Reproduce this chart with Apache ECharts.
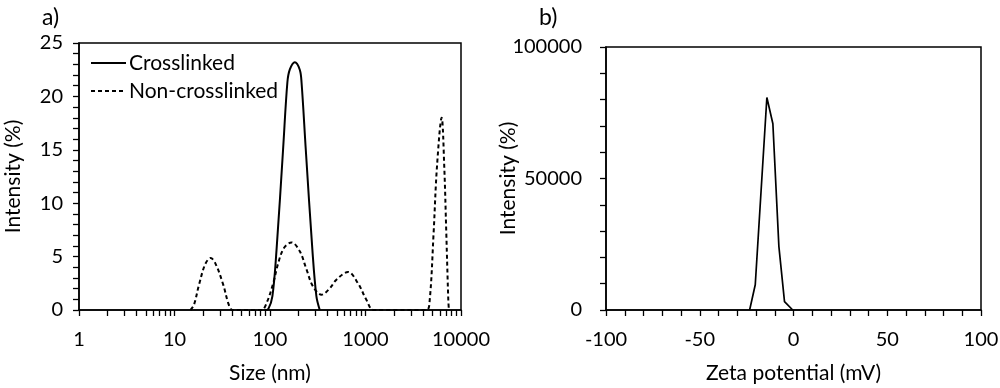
<!DOCTYPE html>
<html>
<head>
<meta charset="utf-8">
<script src="https://cdn.jsdelivr.net/npm/echarts@6/dist/echarts.min.js"></script>
<style>html,body{margin:0;padding:0;background:#fff;}#c{width:1000px;height:388px;}</style>
</head>
<body>
<div id="c"></div>
<script>
// Panel a) size distribution (nm, %)
const crosslinkedSize = [88, 96, 106, 117, 137, 152, 161, 182, 205, 214, 237, 278, 306, 332];
const crosslinkedInt  = [0, 0.1, 1.3, 5.6, 15, 21.3, 22.5, 23.2, 22.5, 21.3, 15, 5.6, 1.3, 0];
const nonCrossSize = [14.7, 16, 18.1, 21, 23.9, 27, 32.3, 37, 40.5, 81.5, 92, 108, 122, 140, 168, 205, 241, 282, 346, 420, 496, 656, 835, 1021, 1219, 4340, 4700, 5165, 5600, 6270, 6680, 7015, 7360, 7470];
const nonCrossInt  = [0, 0.5, 2.4, 4.3, 4.87, 4.3, 2.4, 0.5, 0, 0, 0.65, 2.5, 4.4, 5.8, 6.33, 5.5, 3.8, 2.2, 1.43, 2.0, 2.84, 3.56, 2.5, 0.96, 0, 0, 0.9, 7.2, 13.4, 18.0, 13.4, 7.2, 0.96, 0];
// Panel b) zeta potential (mV, intensity)
const zetaMV  = [-23.4, -20.4, -14.2, -11.0, -7.8, -4.8, -0.4];
const zetaInt = [0, 9600, 80800, 70800, 24200, 3200, 0];
// Tick values
const sizeTicks = [1,2,3,4,5,6,7,8,9,10,20,30,40,50,60,70,80,90,100,200,300,400,500,600,700,800,900,1000,2000,3000,4000,5000,6000,7000,8000,9000,10000];
const sizeLabels = [1, 10, 100, 1000, 10000];

const pair = (xs, ys) => xs.map((x, i) => [x, ys[i]]);
const FONT = 'Lato';
const txt = {color: '#000', fontFamily: FONT, fontSize: 21};
const tickTxt = {color: '#000', fontFamily: FONT, fontSize: 20};
const axLine = {show: true, onZero: false, lineStyle: {color: '#000', width: 1.5}};
const tickStyle = {color: '#000', width: 1.3};
const plain = v => String(v);

const chart = echarts.init(document.getElementById('c'), null, {renderer: 'canvas'});
chart.setOption({
  animation: false,
  backgroundColor: '#fff',
  title: [
    {text: 'a)', left: 37, top: 1, textStyle: {color: '#000', fontFamily: FONT, fontSize: 23, fontWeight: 'normal'}},
    {text: 'b)', left: 534, top: 1, textStyle: {color: '#000', fontFamily: FONT, fontSize: 23, fontWeight: 'normal'}}
  ],
  legend: {
    orient: 'vertical', left: 90, top: 52, padding: 0, itemWidth: 35, itemHeight: 14, itemGap: 6,
    itemStyle: {opacity: 0},
    textStyle: Object.assign({padding: [0,0,0,-2], lineHeight: 22}, txt),
    data: ['Crosslinked', 'Non-crosslinked']
  },
  grid: [
    {left: 79, right: 539, top: 43, bottom: 78, outerBoundsMode: 'none', containLabel: false, show: true, borderColor: '#000', borderWidth: 1.5},
    {left: 606, right: 19, top: 47, bottom: 78, outerBoundsMode: 'none', containLabel: false, show: true, borderColor: '#000', borderWidth: 1.5}
  ],
  xAxis: [
    {gridIndex: 0, type: 'log', logBase: 10, min: 1, max: 10000,
     name: 'Size (nm)', nameLocation: 'middle', nameGap: 53, nameMoveOverlap: false, nameTextStyle: txt,
     axisLine: axLine, splitLine: {show: false},
     axisTick: {show: true, inside: false, length: 6, lineStyle: tickStyle, customValues: sizeTicks},
     axisLabel: Object.assign({margin: 20, customValues: sizeLabels, formatter: plain}, tickTxt)},
    {gridIndex: 1, type: 'value', min: -100, max: 100, interval: 50,
     name: 'Zeta potential (mV)', nameLocation: 'middle', nameGap: 53, nameMoveOverlap: false, nameTextStyle: txt,
     axisLine: axLine, splitLine: {show: false},
     axisTick: {show: true, length: 6, lineStyle: tickStyle},
     minorTick: {show: true, splitNumber: 5, length: 6, lineStyle: tickStyle},
     axisLabel: Object.assign({margin: 20, formatter: plain}, tickTxt)}
  ],
  yAxis: [
    {gridIndex: 0, type: 'value', min: 0, max: 25, interval: 5,
     name: 'Intensity (%)', nameLocation: 'middle', nameGap: 55, nameMoveOverlap: false, nameTextStyle: txt,
     axisLine: axLine, splitLine: {show: false},
     axisTick: {show: true, length: 6, lineStyle: tickStyle},
     minorTick: {show: true, splitNumber: 5, length: 6, lineStyle: tickStyle},
     axisLabel: Object.assign({margin: 16, formatter: plain}, tickTxt)},
    {gridIndex: 1, type: 'value', min: 0, max: 100000, interval: 50000,
     name: 'Intensity (%)', nameLocation: 'middle', nameGap: 87, nameMoveOverlap: false, nameTextStyle: txt,
     axisLine: axLine, splitLine: {show: false},
     axisTick: {show: true, length: 6, lineStyle: tickStyle},
     minorTick: {show: true, splitNumber: 5, length: 6, lineStyle: tickStyle},
     axisLabel: Object.assign({margin: 24, formatter: plain}, tickTxt)}
  ],
  series: [
    {name: 'Crosslinked', type: 'line', xAxisIndex: 0, yAxisIndex: 0, smooth: 0.35, showSymbol: false, symbol: 'none',
     color: '#000', lineStyle: {color: '#000', width: 2, type: 'solid'}, data: pair(crosslinkedSize, crosslinkedInt)},
    {name: 'Non-crosslinked', type: 'line', xAxisIndex: 0, yAxisIndex: 0, smooth: 0.35, showSymbol: false, symbol: 'none',
     color: '#000', lineStyle: {color: '#000', width: 2, type: [4, 3]}, data: pair(nonCrossSize, nonCrossInt)},
    {name: 'Zeta', type: 'line', xAxisIndex: 1, yAxisIndex: 1, smooth: false, showSymbol: false, symbol: 'none',
     color: '#000', lineStyle: {color: '#000', width: 1.7}, data: pair(zetaMV, zetaInt)}
  ]
});
</script>
</body>
</html>
